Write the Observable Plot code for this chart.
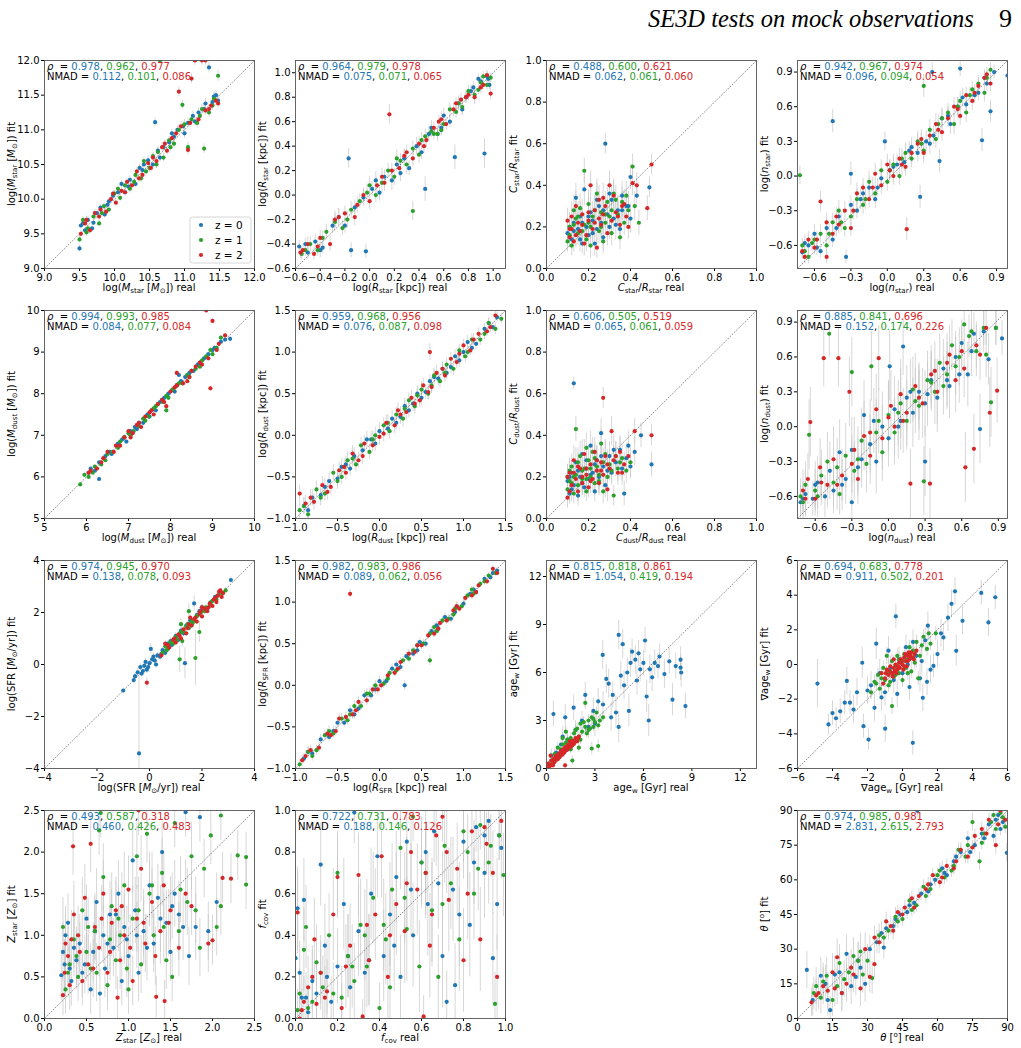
<!DOCTYPE html>
<html><head><meta charset="utf-8">
<script src="https://cdn.jsdelivr.net/npm/d3@7"></script>
<script src="https://cdn.jsdelivr.net/npm/@observablehq/plot@0.6"></script>
<style>
body{margin:0;background:#fff;}
#page{position:relative;width:1021px;height:1048px;overflow:hidden;font-family:"DejaVu Sans",sans-serif;background:#fff;}
.panel{position:absolute;}
.lab{position:absolute;font-size:10px;white-space:nowrap;color:#000;line-height:1;font-family:"DejaVu Sans";}
.lab sub{font-size:0.7em;vertical-align:-0.35em;line-height:0;}
.lab sup{font-size:0.7em;vertical-align:0.55em;line-height:0;}
#title{position:absolute;left:0;top:6px;width:1021px;height:34px;font-family:"Liberation Serif",serif;font-size:26px;line-height:1;color:#000;}
</style></head><body><div id="page"></div>
<script>
const COLORS = ["#1f77b4", "#2ca02c", "#d62728"];

// ---- data: [real, fit, error] ----
const mstarZ0 = [[9.5,9.29,.05],[9.52,9.62,.04],[9.58,9.55,.04],[9.62,9.7,.05],[9.7,9.66,.04],[9.75,9.8,.05],[9.8,9.88,.04],[9.86,9.78,.05],[9.92,9.97,.05],[9.98,10.05,.05],[10.05,10.1,.05],[10.1,10.22,.05],[10.15,10.1,.05],[10.22,10.28,.06],[10.3,10.22,.05],[10.36,10.45,.06],[10.42,10.5,.05],[10.48,10.56,.06],[10.55,10.5,.05],[10.58,11.11,.06],[10.62,10.7,.06],[10.7,10.75,.06],[10.78,10.82,.06],[10.85,10.9,.06],[10.9,11.0,.06],[10.98,11.05,.07],[11.05,11.1,.07],[11.12,11.2,.07],[11.2,11.25,.07],[11.28,11.3,.07],[11.35,11.9,.08],[11.4,11.4,.07],[11.45,11.5,.07],[11.48,11.42,.07],[9.55,9.65,.05],[9.68,9.58,.05],[9.9,9.92,.05],[10.2,10.18,.05],[10.4,10.42,.06],[10.65,10.6,.06],[10.82,10.95,.06],[11.0,10.95,.07],[11.15,11.12,.07],[11.3,11.38,.07],[11.42,11.48,.07]];
const mstarZ1 = [[9.5,9.42,.05],[9.55,9.7,.05],[9.62,9.58,.05],[9.7,9.75,.04],[9.78,9.65,.05],[9.85,9.9,.05],[9.92,9.85,.05],[10.0,10.08,.05],[10.08,10.02,.05],[10.15,10.2,.05],[10.22,10.15,.06],[10.3,10.35,.05],[10.38,10.3,.06],[10.45,10.4,.05],[10.5,10.45,.06],[10.55,10.62,.05],[10.62,10.68,.06],[10.65,12.0,.06],[10.7,10.6,.06],[10.78,10.85,.06],[10.85,10.8,.06],[10.92,11.0,.07],[10.97,11.36,.07],[11.05,10.75,.07],[11.1,11.15,.07],[11.18,11.1,.07],[11.25,11.3,.07],[11.28,10.73,.07],[11.35,11.25,.07],[11.42,11.45,.07],[11.48,11.78,.08],[9.6,9.52,.05],[9.82,9.8,.05],[10.05,10.15,.05],[10.28,10.25,.05],[10.42,10.55,.06],[10.6,10.5,.06],[10.8,10.75,.06],[11.0,11.08,.07],[11.22,11.2,.07],[11.4,11.35,.07]];
const mstarZ2 = [[9.52,9.5,.05],[9.58,9.65,.05],[9.65,9.55,.05],[9.72,9.8,.05],[9.8,9.85,.05],[9.88,9.82,.05],[9.95,10.0,.05],[10.02,9.95,.05],[10.1,10.12,.05],[10.18,10.25,.05],[10.25,10.2,.05],[10.32,10.4,.06],[10.4,10.35,.06],[10.48,10.52,.06],[10.55,10.6,.06],[10.6,10.55,.06],[10.68,10.75,.06],[10.75,10.7,.06],[10.82,10.88,.06],[10.88,10.95,.06],[10.92,11.55,.07],[11.05,10.71,.07],[11.1,11.74,.07],[11.15,12.0,.07],[11.2,11.15,.07],[11.25,12.0,.07],[11.3,11.28,.07],[11.38,11.35,.07],[11.45,11.42,.07],[11.3,12.0,.07],[9.6,9.7,.05],[9.78,9.75,.05],[9.98,10.08,.05],[10.15,10.1,.05],[10.35,10.3,.06],[10.52,10.45,.06],[10.72,10.8,.06],[10.95,11.05,.07],[11.08,11.1,.07],[11.35,11.3,.07],[11.48,11.38,.07]];

const rstarZ0 = [[-0.57,-0.42,.05],[-0.5,-0.47,.05],[-0.44,-0.38,.06],[-0.38,-0.43,.05],[-0.3,-0.25,.06],[-0.25,-0.18,.07],[-0.17,0.3,.08],[-0.15,-0.45,.06],[-0.12,-0.1,.06],[-0.05,-0.02,.07],[-0.03,-0.46,.06],[0.02,0.05,.06],[0.08,0.02,.07],[0.12,0.15,.06],[0.18,0.12,.08],[0.22,0.25,.06],[0.28,0.3,.07],[0.32,0.22,.06],[0.38,0.4,.07],[0.42,0.35,.06],[0.45,0.05,.1],[0.5,0.55,.06],[0.55,0.5,.05],[0.6,0.65,.06],[0.65,0.6,.05],[0.69,0.31,.1],[0.72,0.75,.06],[0.78,0.8,.05],[0.84,0.88,.05],[0.88,0.95,.04],[0.93,0.34,.12],[0.95,0.97,.04],[0.97,0.9,.04],[-0.52,-0.4,.05],[-0.4,-0.45,.06],[-0.2,-0.25,.06],[0.05,0.12,.07],[0.25,0.18,.07],[0.48,0.5,.06],[0.58,0.55,.06],[0.75,0.7,.05],[0.82,0.85,.05],[0.9,0.93,.04],[0.96,0.95,.04]];
const rstarZ1 = [[-0.55,-0.48,.05],[-0.48,-0.4,.06],[-0.42,-0.45,.05],[-0.35,-0.3,.06],[-0.28,-0.22,.07],[-0.22,-0.27,.06],[-0.15,-0.12,.07],[-0.08,-0.05,.06],[-0.02,0.02,.07],[0.05,0.0,.06],[0.1,0.1,.08],[0.15,0.2,.06],[0.2,0.15,.07],[0.25,0.28,.06],[0.3,0.25,.08],[0.35,-0.13,.08],[0.35,0.38,.06],[0.4,0.33,.07],[0.45,0.48,.06],[0.5,0.52,.05],[0.55,0.5,.06],[0.6,0.58,.05],[0.65,0.7,.06],[0.7,0.68,.05],[0.75,0.72,.06],[0.8,0.85,.05],[0.85,0.82,.05],[0.9,0.92,.04],[0.95,0.9,.04],[0.98,0.96,.04],[-0.52,-0.45,.05],[-0.38,-0.35,.06],[-0.18,-0.2,.07],[0.0,0.08,.07],[0.22,0.3,.07],[0.42,0.45,.06],[0.52,0.5,.05],[0.58,0.53,.05],[0.72,0.75,.05],[0.88,0.86,.04],[0.92,0.97,.04]];
const rstarZ2 = [[-0.56,-0.47,.05],[-0.5,-0.4,.06],[-0.45,-0.48,.05],[-0.4,-0.35,.06],[-0.32,-0.4,.06],[-0.28,-0.2,.07],[-0.2,-0.15,.06],[-0.12,-0.18,.07],[-0.05,0.0,.06],[0.0,-0.05,.07],[0.06,0.08,.06],[0.12,0.1,.07],[0.16,0.66,.08],[0.18,0.2,.06],[0.24,0.22,.07],[0.3,0.35,.06],[0.35,0.3,.07],[0.4,0.42,.06],[0.46,0.45,.06],[0.52,0.55,.05],[0.58,0.62,.06],[0.62,0.58,.05],[0.68,0.7,.06],[0.74,0.78,.05],[0.8,0.82,.05],[0.85,0.8,.06],[0.9,0.88,.05],[0.95,0.98,.04],[0.98,0.83,.05],[-0.54,-0.45,.05],[-0.42,-0.42,.06],[-0.25,-0.18,.07],[-0.1,-0.08,.07],[0.1,0.15,.07],[0.28,0.32,.06],[0.44,0.4,.06],[0.56,0.6,.05],[0.7,0.75,.05],[0.78,0.8,.05],[0.92,0.9,.04]];

const cstarZ0 = [[0.1,0.17,.06],[0.12,0.14,.05],[0.13,0.22,.07],[0.15,0.19,.06],[0.16,0.25,.07],[0.17,0.12,.05],[0.18,0.38,.08],[0.19,0.2,.06],[0.2,0.16,.06],[0.21,0.27,.07],[0.22,0.23,.06],[0.24,0.19,.06],[0.25,0.3,.07],[0.26,0.22,.06],[0.27,0.15,.06],[0.28,0.6,.05],[0.29,0.26,.07],[0.3,0.2,.06],[0.31,0.33,.07],[0.32,0.24,.06],[0.34,0.28,.07],[0.35,0.19,.06],[0.36,0.35,.07],[0.38,0.3,.07],[0.4,0.44,.06],[0.4,0.24,.07],[0.43,0.35,.06],[0.49,0.39,.05],[0.14,0.34,.07],[0.23,0.12,.06],[0.11,0.2,.07],[0.13,0.18,.06],[0.17,0.22,.07],[0.2,0.25,.07],[0.22,0.17,.06],[0.24,0.33,.08],[0.27,0.28,.07],[0.3,0.36,.07],[0.33,0.21,.07],[0.36,0.28,.07],[0.39,0.3,.07],[0.16,0.14,.06]];
const cstarZ1 = [[0.1,0.13,.05],[0.11,0.2,.06],[0.12,0.11,.05],[0.14,0.24,.07],[0.15,0.17,.06],[0.16,0.29,.07],[0.18,0.47,.06],[0.18,0.21,.06],[0.19,0.14,.06],[0.2,0.31,.07],[0.21,0.2,.06],[0.22,0.25,.07],[0.24,0.36,.07],[0.25,0.18,.06],[0.26,0.27,.07],[0.28,0.22,.06],[0.29,0.32,.07],[0.3,0.25,.06],[0.31,0.17,.06],[0.32,0.36,.07],[0.34,0.26,.06],[0.36,0.32,.07],[0.37,0.22,.06],[0.39,0.28,.07],[0.41,0.49,.06],[0.42,0.3,.07],[0.44,0.22,.06],[0.35,0.15,.06],[0.13,0.28,.07],[0.27,0.13,.06],[0.11,0.16,.06],[0.13,0.21,.07],[0.15,0.25,.07],[0.17,0.18,.06],[0.2,0.22,.07],[0.23,0.28,.07],[0.26,0.2,.07],[0.28,0.26,.07],[0.31,0.28,.07],[0.33,0.33,.07],[0.38,0.35,.07],[0.21,0.11,.06]];
const cstarZ2 = [[0.1,0.23,.06],[0.11,0.15,.05],[0.12,0.19,.06],[0.13,0.13,.05],[0.15,0.22,.07],[0.16,0.18,.06],[0.17,0.26,.07],[0.19,0.16,.06],[0.2,0.23,.06],[0.21,0.4,.07],[0.22,0.19,.06],[0.23,0.28,.07],[0.24,0.1,.05],[0.25,0.24,.07],[0.26,0.21,.06],[0.28,0.3,.07],[0.29,0.17,.06],[0.3,0.4,.07],[0.31,0.23,.06],[0.33,0.27,.07],[0.35,0.21,.06],[0.37,0.31,.07],[0.38,0.25,.06],[0.41,0.41,.06],[0.43,0.4,.06],[0.48,0.29,.06],[0.5,0.5,.05],[0.39,0.2,.06],[0.14,0.3,.07],[0.27,0.34,.07],[0.11,0.19,.06],[0.12,0.25,.07],[0.14,0.16,.06],[0.17,0.21,.07],[0.18,0.12,.06],[0.2,0.27,.07],[0.23,0.22,.07],[0.25,0.33,.07],[0.27,0.26,.07],[0.32,0.35,.07],[0.34,0.25,.07],[0.36,0.3,.07]];

const nstarZ0 = [[-0.7,-0.66,.06],[-0.65,-0.6,.07],[-0.6,-0.5,.08],[-0.55,-0.65,.06],[-0.5,-0.45,.08],[-0.45,0.475,.1],[-0.45,-0.55,.07],[-0.4,-0.35,.08],[-0.34,-0.7,.06],[-0.3,0.02,.1],[-0.3,-0.25,.08],[-0.25,-0.3,.07],[-0.2,-0.15,.08],[-0.15,-0.1,.09],[-0.1,-0.2,.08],[-0.05,-0.02,.09],[-0.02,0.3,.08],[0.02,0.05,.08],[0.08,0.1,.09],[0.14,0.12,.08],[0.2,0.25,.08],[0.27,-0.18,.1],[0.25,0.2,.08],[0.32,0.3,.09],[0.37,0.9,.08],[0.38,0.35,.08],[0.43,0.13,.1],[0.45,0.5,.08],[0.52,0.45,.09],[0.58,0.6,.08],[0.6,0.93,.07],[0.65,0.62,.08],[0.72,0.7,.07],[0.78,0.31,.1],[0.8,0.85,.07],[0.85,0.56,.09],[0.88,0.9,.06],[0.99,0.87,.06],[-0.68,-0.58,.07],[-0.58,-0.62,.07],[-0.42,-0.45,.08],[-0.22,-0.2,.09],[-0.08,-0.1,.08],[0.05,0.08,.08],[0.18,0.22,.08],[0.35,0.28,.09],[0.5,0.52,.08],[0.62,0.68,.08],[0.75,0.72,.07],[0.82,0.8,.07]];
const nstarZ1 = [[-0.72,0.007,.08],[-0.7,-0.6,.06],[-0.65,-0.7,.06],[-0.6,-0.55,.07],[-0.55,-0.5,.08],[-0.5,-0.6,.07],[-0.45,-0.4,.08],[-0.4,-0.3,.09],[-0.35,-0.45,.08],[-0.3,-0.35,.08],[-0.25,-0.2,.09],[-0.2,-0.25,.08],[-0.15,-0.05,.09],[-0.1,-0.15,.08],[-0.05,0.05,.09],[0.0,-0.05,.08],[0.05,0.1,.09],[0.1,0.0,.08],[0.15,0.2,.09],[0.2,0.15,.08],[0.25,0.3,.09],[0.3,0.78,.1],[0.3,0.22,.08],[0.35,0.4,.09],[0.4,0.32,.08],[0.45,0.5,.09],[0.5,0.55,.08],[0.55,0.45,.09],[0.6,0.65,.08],[0.65,0.55,.09],[0.7,0.75,.07],[0.75,0.8,.07],[0.8,0.72,.08],[0.85,0.92,.06],[-0.68,-0.65,.06],[-0.62,-0.58,.07],[-0.48,-0.5,.08],[-0.38,-0.4,.08],[-0.18,-0.2,.09],[0.02,0.05,.09],[0.12,0.15,.09],[0.28,0.28,.09],[0.42,0.45,.08],[0.58,0.6,.08],[0.68,0.7,.07],[0.82,0.85,.06]];
const nstarZ2 = [[-0.7,-0.65,.06],[-0.65,-0.55,.07],[-0.6,-0.62,.06],[-0.55,-0.22,.09],[-0.5,-0.7,.06],[-0.5,-0.4,.08],[-0.45,-0.5,.07],[-0.4,-0.42,.08],[-0.35,-0.3,.08],[-0.3,-0.45,.07],[-0.25,-0.15,.09],[-0.2,-0.1,.08],[-0.15,-0.2,.08],[-0.1,0.02,.09],[-0.05,-0.08,.08],[0.0,0.1,.09],[0.05,0.0,.08],[0.1,0.15,.09],[0.16,-0.46,.1],[0.15,0.08,.08],[0.2,0.2,.09],[0.25,0.28,.08],[0.3,0.2,.09],[0.35,0.35,.08],[0.4,0.45,.09],[0.45,0.38,.08],[0.5,0.5,.08],[0.55,0.6,.08],[0.6,0.52,.08],[0.65,0.7,.07],[0.7,0.65,.08],[0.75,0.78,.07],[0.8,0.85,.06],[0.85,0.8,.07],[-0.68,-0.7,.06],[-0.58,-0.55,.07],[-0.42,-0.35,.08],[-0.28,-0.3,.08],[-0.12,-0.1,.09],[0.02,0.05,.09],[0.12,0.1,.09],[0.28,0.32,.08],[0.42,0.4,.08],[0.58,0.58,.08],[0.72,0.72,.07],[0.82,0.88,.06]];

const mdustZ0 = [[6.05,6.1,.04],[6.1,6.2,.04],[6.3,5.95,.05],[6.3,6.35,.04],[6.45,6.5,.04],[6.6,6.55,.05],[6.75,6.8,.04],[6.85,6.9,.05],[6.95,6.85,.05],[7.05,7.1,.05],[7.15,7.2,.05],[7.25,7.3,.05],[7.35,7.3,.05],[7.45,7.5,.05],[7.55,7.6,.05],[7.65,7.6,.05],[7.75,7.8,.05],[7.85,7.9,.05],[7.95,8.0,.05],[8.05,8.1,.05],[8.15,8.2,.06],[8.25,8.3,.05],[8.35,8.4,.06],[8.45,8.5,.05],[8.55,8.55,.06],[8.65,8.7,.05],[8.8,8.85,.06],[8.9,8.95,.05],[9.05,9.1,.06],[9.2,9.25,.05],[9.42,9.32,.05],[8.2,8.45,.06],[6.2,6.15,.04],[6.55,6.6,.04],[6.9,6.95,.05],[7.2,7.15,.05],[7.5,7.45,.05],[7.8,7.85,.05],[8.1,8.05,.05],[8.4,8.45,.05],[8.7,8.75,.05],[9.0,9.05,.05],[9.3,9.3,.05]];
const mdustZ1 = [[5.85,5.82,.04],[5.95,6.05,.04],[6.05,6.0,.04],[6.2,6.25,.04],[6.35,6.3,.05],[6.5,6.55,.04],[6.62,6.6,.05],[6.75,6.7,.05],[6.9,6.95,.05],[7.0,7.05,.05],[7.12,7.1,.05],[7.25,7.22,.05],[7.35,7.4,.05],[7.48,7.45,.05],[7.6,7.65,.05],[7.7,7.75,.05],[7.82,7.8,.05],[7.95,7.9,.05],[8.05,8.1,.06],[8.15,8.2,.05],[8.28,8.25,.06],[8.4,8.45,.05],[8.5,8.55,.06],[8.6,8.6,.05],[8.75,8.8,.06],[8.85,8.9,.05],[8.95,9.05,.06],[9.1,9.1,.05],[9.2,9.35,.05],[7.9,7.6,.06],[6.15,6.1,.04],[6.45,6.4,.04],[6.8,6.85,.05],[7.05,7.0,.05],[7.4,7.35,.05],[7.65,7.7,.05],[7.9,7.95,.05],[8.2,8.25,.05],[8.45,8.4,.05],[8.7,8.65,.05],[9.0,8.95,.05]];
const mdustZ2 = [[6.1,6.15,.04],[6.25,6.2,.04],[6.4,6.45,.04],[6.5,6.6,.05],[6.65,6.6,.05],[6.8,6.75,.05],[6.9,6.95,.05],[7.0,7.1,.05],[7.1,7.05,.05],[7.2,7.25,.05],[7.3,7.2,.05],[7.4,7.45,.05],[7.5,7.55,.05],[7.6,7.5,.05],[7.7,7.75,.05],[7.8,7.85,.05],[7.9,7.7,.06],[8.0,8.05,.05],[8.1,8.15,.06],[8.3,8.25,.05],[8.4,8.3,.06],[8.5,8.55,.05],[8.6,8.65,.06],[8.7,8.75,.05],[8.85,10.0,.06],[8.9,8.85,.05],[8.95,8.13,.06],[9.0,9.75,.06],[9.1,9.05,.05],[9.3,9.4,.05],[8.15,8.5,.06],[6.05,6.1,.04],[6.35,6.35,.04],[6.7,6.75,.05],[7.05,6.95,.05],[7.25,7.3,.05],[7.55,7.6,.05],[7.85,7.8,.05],[8.15,8.2,.05],[8.45,8.4,.05],[8.75,8.7,.05],[9.15,9.2,.05]];

const rdustZ0 = [[-0.9,-0.85,.1],[-0.8,-0.75,.1],[-0.7,-0.72,.09],[-0.6,-0.55,.1],[-0.5,-0.52,.09],[-0.45,-0.38,.1],[-0.35,-0.4,.09],[-0.3,-0.25,.1],[-0.2,-0.18,.09],[-0.15,-0.05,.1],[-0.05,-0.1,.09],[0.0,0.05,.1],[0.1,0.08,.09],[0.15,0.2,.1],[0.25,0.22,.09],[0.3,0.35,.1],[0.4,0.38,.09],[0.45,0.5,.1],[0.55,0.52,.09],[0.6,0.65,.08],[0.7,0.68,.09],[0.75,0.8,.08],[0.85,0.82,.08],[0.9,0.95,.08],[1.0,1.0,.07],[1.05,1.12,.08],[1.15,1.1,.07],[1.25,1.28,.07],[1.35,1.3,.06],[1.4,1.42,.06],[-0.85,-0.9,.1],[-0.65,-0.62,.1],[-0.4,-0.35,.1],[-0.1,-0.05,.1],[0.2,0.15,.09],[0.35,0.3,.09],[0.5,0.45,.09],[0.65,0.7,.09],[0.8,0.75,.08],[0.95,0.9,.08],[1.1,1.05,.07],[1.3,1.35,.06]];
const rdustZ1 = [[-0.95,-0.9,.1],[-0.85,-0.95,.1],[-0.75,-0.65,.1],[-0.65,-0.7,.09],[-0.55,-0.45,.1],[-0.45,-0.5,.09],[-0.38,-0.3,.1],[-0.28,-0.35,.09],[-0.22,-0.12,.1],[-0.12,-0.2,.09],[-0.05,0.0,.1],[0.05,0.12,.09],[0.12,0.05,.1],[0.2,0.25,.09],[0.28,0.2,.1],[0.35,0.42,.09],[0.42,0.35,.09],[0.5,0.55,.09],[0.58,0.5,.08],[0.65,0.72,.09],[0.72,0.65,.08],[0.8,0.85,.08],[0.88,0.8,.08],[0.95,1.02,.07],[1.02,0.95,.08],[1.1,1.15,.07],[1.2,1.15,.07],[1.3,1.35,.06],[1.38,1.28,.07],[1.45,1.4,.06],[-0.9,-0.85,.1],[-0.7,-0.75,.1],[-0.5,-0.55,.1],[-0.32,-0.28,.1],[-0.08,-0.05,.1],[0.1,0.15,.1],[0.3,0.32,.09],[0.45,0.48,.09],[0.62,0.6,.09],[0.78,0.75,.08],[1.05,1.0,.07],[1.25,1.22,.07]];
const rdustZ2 = [[-0.95,-0.7,.1],[-0.88,-0.82,.1],[-0.78,-0.8,.1],[-0.68,-0.6,.1],[-0.58,-0.62,.09],[-0.48,-0.42,.1],[-0.4,-0.45,.09],[-0.32,-0.22,.1],[-0.25,-0.3,.09],[-0.18,-0.1,.1],[-0.08,-0.12,.09],[0.0,-0.02,.1],[0.08,0.15,.09],[0.18,0.12,.1],[0.22,0.3,.09],[0.32,0.28,.1],[0.38,0.45,.09],[0.48,0.42,.09],[0.52,0.6,.09],[0.6,1.0,.1],[0.62,0.58,.08],[0.68,0.75,.09],[0.78,0.72,.08],[0.85,0.92,.08],[0.92,0.88,.08],[1.0,1.08,.07],[1.08,1.02,.07],[1.18,1.22,.07],[1.28,1.25,.06],[1.38,1.44,.06],[-0.82,-0.75,.1],[-0.62,-0.68,.1],[-0.42,-0.38,.1],[-0.2,-0.25,.1],[0.05,0.02,.1],[0.25,0.25,.09],[0.42,0.38,.09],[0.58,0.52,.09],[0.75,0.8,.08],[0.95,0.98,.08],[1.12,1.15,.07],[1.32,1.3,.06]];

const cdustZ0 = [[0.1,0.18,.06],[0.11,0.12,.05],[0.12,0.22,.06],[0.13,0.65,.03],[0.13,0.16,.05],[0.14,0.27,.07],[0.15,0.11,.05],[0.16,0.2,.06],[0.17,0.31,.07],[0.18,0.15,.05],[0.19,0.24,.06],[0.2,0.19,.06],[0.21,0.35,.07],[0.22,0.22,.06],[0.23,0.13,.05],[0.24,0.28,.07],[0.25,0.2,.06],[0.26,0.41,.07],[0.27,0.25,.06],[0.28,0.16,.06],[0.3,0.3,.07],[0.31,0.22,.06],[0.33,0.27,.07],[0.35,0.33,.07],[0.37,0.12,.06],[0.38,0.29,.07],[0.4,0.25,.06],[0.42,0.32,.07],[0.45,0.4,.06],[0.5,0.26,.06],[0.11,0.2,.06],[0.12,0.14,.06],[0.15,0.23,.06],[0.17,0.17,.06],[0.19,0.28,.07],[0.21,0.21,.06],[0.23,0.26,.07],[0.26,0.3,.07],[0.29,0.23,.06],[0.32,0.33,.07],[0.36,0.24,.06],[0.39,0.35,.07]];
const cdustZ1 = [[0.1,0.2,.06],[0.1,0.14,.05],[0.11,0.18,.06],[0.12,0.25,.06],[0.13,0.12,.05],[0.14,0.43,.06],[0.14,0.21,.06],[0.15,0.16,.05],[0.16,0.3,.07],[0.17,0.19,.06],[0.18,0.24,.06],[0.19,0.13,.05],[0.2,0.28,.07],[0.21,0.2,.06],[0.22,0.32,.07],[0.23,0.17,.06],[0.24,0.25,.07],[0.25,0.21,.06],[0.26,0.36,.07],[0.27,0.27,.07],[0.29,0.2,.06],[0.3,0.26,.07],[0.32,0.11,.05],[0.33,0.3,.07],[0.34,0.24,.06],[0.36,0.29,.07],[0.38,0.23,.06],[0.4,0.27,.07],[0.27,0.13,.06],[0.19,0.34,.07],[0.11,0.23,.06],[0.12,0.17,.06],[0.13,0.2,.06],[0.15,0.27,.07],[0.17,0.23,.06],[0.19,0.19,.06],[0.21,0.24,.07],[0.23,0.29,.07],[0.25,0.18,.06],[0.28,0.31,.07],[0.31,0.23,.06],[0.35,0.27,.07]];
const cdustZ2 = [[0.1,0.1,.05],[0.11,0.22,.06],[0.12,0.16,.05],[0.13,0.28,.07],[0.14,0.19,.06],[0.15,0.13,.05],[0.16,0.24,.06],[0.17,0.17,.06],[0.18,0.31,.07],[0.19,0.21,.06],[0.2,0.15,.05],[0.21,0.26,.07],[0.22,0.19,.06],[0.23,0.32,.07],[0.24,0.23,.06],[0.25,0.17,.06],[0.26,0.27,.07],[0.27,0.58,.05],[0.27,0.21,.06],[0.28,0.3,.07],[0.3,0.24,.06],[0.31,0.42,.07],[0.32,0.28,.07],[0.34,0.22,.06],[0.35,0.32,.07],[0.37,0.26,.06],[0.39,0.3,.07],[0.42,0.42,.06],[0.5,0.4,.05],[0.29,0.14,.06],[0.1,0.2,.06],[0.11,0.13,.05],[0.13,0.22,.06],[0.15,0.25,.06],[0.17,0.2,.06],[0.19,0.24,.07],[0.21,0.18,.06],[0.24,0.28,.07],[0.26,0.23,.06],[0.29,0.26,.07],[0.33,0.3,.07],[0.36,0.22,.06]];

const ndustZ0 = [[-0.72,-0.65,.15],[-0.68,-0.58,.2],[-0.62,-0.62,.15],[-0.58,-0.48,.22],[-0.52,-0.6,.18],[-0.48,-0.38,.25],[-0.45,-0.55,.2],[-0.4,-0.22,.28],[-0.35,-0.45,.22],[-0.3,-0.65,.2],[-0.3,-0.2,.28],[-0.25,-0.35,.25],[-0.2,0.1,.3],[-0.15,-0.15,.25],[-0.1,-0.3,.28],[-0.05,0.0,.3],[0.0,-0.1,.25],[0.01,0.52,.3],[0.05,0.15,.28],[0.1,0.05,.25],[0.12,0.69,.25],[0.15,0.25,.28],[0.2,0.12,.3],[0.25,0.3,.25],[0.3,-0.3,.3],[0.3,0.2,.28],[0.35,0.4,.25],[0.4,0.25,.3],[0.45,0.5,.25],[0.5,0.35,.28],[0.55,0.6,.22],[0.6,0.72,.2],[0.65,0.45,.28],[0.7,0.8,.18],[0.75,-0.02,.3],[0.82,0.58,.22],[0.88,0.85,.15],[0.93,0.76,.15],[-0.7,-0.62,.15],[-0.6,-0.5,.2],[-0.38,-0.5,.22],[-0.22,-0.28,.25],[-0.12,0.05,.28],[0.08,0.0,.28],[0.18,0.3,.28],[0.32,0.28,.28],[0.48,0.4,.25],[0.58,0.45,.25],[0.68,0.65,.22],[0.78,0.82,.18]];
const ndustZ1 = [[-0.72,-0.6,.15],[-0.68,-0.5,.2],[-0.65,-0.07,.3],[-0.6,-0.55,.18],[-0.55,-0.42,.22],[-0.5,-0.3,.25],[-0.485,0.8,.2],[-0.45,-0.48,.2],[-0.4,-0.58,.18],[-0.35,-0.25,.28],[-0.3,0.47,.3],[-0.28,-0.38,.25],[-0.22,-0.12,.28],[-0.18,-0.32,.25],[-0.14,0.52,.3],[-0.1,-0.05,.28],[-0.05,-0.22,.25],[0.0,0.1,.3],[0.05,-0.05,.28],[0.1,0.2,.3],[0.15,0.05,.25],[0.2,0.32,.28],[0.25,0.18,.3],[0.29,-0.47,.3],[0.32,0.4,.25],[0.38,0.3,.28],[0.42,0.55,.25],[0.48,0.45,.28],[0.52,0.7,.22],[0.58,0.6,.25],[0.62,0.88,.15],[0.66,0.78,.18],[0.72,0.65,.22],[0.78,0.85,.15],[0.84,0.21,.3],[0.88,0.85,.15],[-0.7,-0.65,.15],[-0.58,-0.6,.18],[-0.42,-0.35,.25],[-0.25,-0.28,.28],[-0.08,0.05,.28],[0.08,0.12,.28],[0.22,0.22,.28],[0.35,0.38,.25],[0.45,0.35,.25],[0.55,0.52,.25],[0.68,0.82,.18],[0.8,0.62,.2]];
const ndustZ2 = [[-0.7,-0.55,.18],[-0.66,-0.45,.22],[-0.64,0.04,.3],[-0.6,-0.62,.15],[-0.56,-0.35,.25],[-0.53,0.59,.25],[-0.5,-0.5,.2],[-0.45,-0.28,.28],[-0.41,0.59,.25],[-0.38,-0.42,.22],[-0.32,0.3,.3],[-0.28,-0.2,.28],[-0.25,-0.45,.22],[-0.2,-0.08,.3],[-0.15,-0.25,.25],[-0.08,0.59,.28],[-0.1,0.15,.3],[-0.05,-0.1,.28],[0.02,0.18,.3],[0.05,0.0,.25],[0.1,0.28,.3],[0.15,0.12,.28],[0.18,-0.49,.3],[0.22,0.35,.28],[0.28,0.2,.3],[0.34,-0.49,.3],[0.35,0.45,.25],[0.4,0.3,.28],[0.48,0.55,.25],[0.55,0.4,.28],[0.6,0.65,.22],[0.63,-0.35,.3],[0.7,-0.19,.3],[0.72,0.7,.2],[0.8,0.85,.15],[0.83,0.12,.3],[0.89,0.31,.28],[-0.68,-0.62,.15],[-0.55,-0.48,.2],[-0.42,-0.5,.22],[-0.3,-0.32,.25],[-0.15,-0.05,.28],[0.0,0.08,.3],[0.12,0.05,.28],[0.25,0.25,.28],[0.38,0.48,.25],[0.5,0.62,.25],[0.62,0.5,.25],[0.75,0.62,.22]];

const sfrZ0 = [[-1.0,-1.0,.1],[-0.55,-0.45,.12],[-0.45,-0.3,.15],[-0.4,-3.42,3.0],[-0.35,-0.1,.15],[-0.3,-0.35,.12],[-0.2,-0.05,.15],[-0.15,0.1,.12],[-0.1,-0.2,.15],[0.0,0.05,.12],[0.05,0.6,.2],[0.1,0.2,.12],[0.2,0.15,.15],[0.3,0.35,.12],[0.4,0.3,.15],[0.5,0.55,.12],[0.6,0.45,.15],[0.7,0.8,.12],[0.85,0.75,.15],[1.0,1.1,.12],[1.1,0.95,.15],[1.2,1.3,.12],[1.35,0.05,.6],[1.4,1.5,.12],[1.55,1.7,.15],[1.7,2.35,.3],[1.8,1.9,.12],[2.0,2.2,.12],[2.2,2.1,.1],[2.5,2.6,.1],[3.1,3.25,.1],[0.25,0.0,.15],[-0.6,-0.6,.12],[-0.25,-0.25,.15],[-0.05,-0.1,.15],[0.15,0.3,.15],[0.45,0.4,.12],[0.8,0.9,.12],[1.3,1.2,.12],[1.6,1.5,.12],[1.9,2.05,.12],[2.3,2.35,.1]];
const sfrZ1 = [[0.5,0.45,.12],[0.6,0.7,.12],[0.7,0.6,.12],[0.8,0.85,.12],[0.9,0.8,.12],[1.0,1.05,.12],[1.05,0.95,.12],[1.15,0.2,.5],[1.15,1.2,.12],[1.2,1.55,.2],[1.3,1.25,.12],[1.4,1.45,.12],[1.5,2.05,.3],[1.5,1.4,.12],[1.6,1.65,.12],[1.75,0.25,1.05],[1.7,1.7,.12],[1.8,1.85,.12],[1.9,1.25,.4],[1.95,2.0,.1],[2.05,2.1,.1],[2.15,2.2,.1],[2.3,2.3,.1],[2.4,2.45,.1],[2.55,2.5,.1],[2.7,2.75,.1],[2.9,2.85,.1],[1.25,0.9,.2],[0.65,0.55,.12],[0.95,1.0,.12],[1.25,1.3,.12],[1.45,1.55,.12],[1.65,1.6,.1],[1.85,1.9,.1],[2.1,2.05,.1],[2.35,2.4,.1],[2.6,2.65,.1],[2.8,2.75,.1]];
const sfrZ2 = [[-0.1,-0.7,.2],[0.45,0.35,.12],[0.6,0.8,.12],[0.75,0.65,.12],[0.9,0.95,.1],[1.0,0.85,.12],[1.1,1.15,.1],[1.2,1.0,.12],[1.3,1.35,.1],[1.4,1.2,.12],[1.5,1.55,.1],[1.6,1.5,.1],[1.7,1.75,.1],[1.8,1.65,.1],[1.9,1.95,.1],[2.0,1.85,.1],[2.1,2.15,.1],[2.2,2.05,.1],[2.3,2.35,.1],[2.4,2.25,.1],[2.5,2.55,.1],[2.55,2.4,.1],[2.65,2.8,.1],[2.75,2.6,.1],[2.8,2.75,.1],[2.0,2.2,.1],[1.55,1.8,.12],[0.7,0.75,.12],[0.95,1.0,.1],[1.15,1.1,.1],[1.45,1.4,.1],[1.75,1.8,.1],[1.95,2.05,.1],[2.25,2.2,.1],[2.45,2.5,.1],[2.6,2.65,.1],[2.7,2.85,.1]];

const rsfrZ0 = [[-0.9,-0.88,.06],[-0.8,-0.82,.06],[-0.7,-0.65,.06],[-0.6,-0.62,.06],[-0.5,-0.45,.06],[-0.42,-0.45,.06],[-0.35,-0.3,.06],[-0.25,-0.28,.06],[-0.18,-0.12,.06],[-0.1,-0.12,.06],[0.0,0.05,.06],[0.08,0.05,.06],[0.15,0.2,.06],[0.25,0.22,.05],[0.32,0.35,.05],[0.4,0.38,.05],[0.48,0.52,.05],[0.55,0.5,.05],[0.62,0.65,.05],[0.7,0.68,.05],[0.78,0.82,.05],[0.85,0.8,.05],[0.92,0.95,.05],[1.0,0.98,.04],[1.08,1.1,.04],[1.15,1.12,.04],[1.25,1.28,.04],[1.32,1.3,.04],[1.4,1.38,.04],[0.3,0.0,.06],[-0.85,-0.8,.06],[-0.55,-0.55,.06],[-0.3,-0.35,.06],[-0.05,-0.05,.06],[0.2,0.25,.05],[0.45,0.42,.05],[0.68,0.72,.05],[0.9,0.88,.05],[1.12,1.15,.04],[1.35,1.35,.04]];
const rsfrZ1 = [[-0.95,-0.95,.06],[-0.85,-0.8,.06],[-0.75,-0.78,.06],[-0.65,-0.6,.06],[-0.55,-0.58,.06],[-0.45,-0.4,.06],[-0.38,-0.42,.06],[-0.3,-0.25,.06],[-0.22,-0.25,.06],[-0.12,-0.1,.06],[-0.05,0.0,.06],[0.05,0.02,.06],[0.12,0.15,.05],[0.2,0.18,.05],[0.28,0.3,.05],[0.35,0.32,.05],[0.45,0.48,.05],[0.52,0.5,.05],[0.6,0.62,.05],[0.68,0.65,.05],[0.75,0.78,.05],[0.82,0.8,.05],[0.9,0.92,.05],[0.98,0.95,.04],[1.05,1.08,.04],[1.12,1.1,.04],[1.2,1.22,.04],[1.3,1.32,.04],[1.38,1.35,.04],[0.6,0.3,.06],[-0.8,-0.85,.06],[-0.6,-0.55,.06],[-0.35,-0.35,.06],[-0.15,-0.1,.06],[0.1,0.08,.05],[0.4,0.42,.05],[0.65,0.7,.05],[0.88,0.85,.05],[1.1,1.15,.04],[1.25,1.25,.04]];
const rsfrZ2 = [[-0.92,-0.9,.06],[-0.82,-0.78,.06],[-0.72,-0.75,.06],[-0.62,-0.58,.06],[-0.52,-0.55,.06],[-0.48,-0.4,.06],[-0.4,-0.38,.06],[-0.35,1.1,.05],[-0.32,-0.35,.06],[-0.25,-0.2,.06],[-0.15,-0.18,.06],[-0.08,-0.05,.06],[0.02,0.0,.06],[0.1,0.12,.05],[0.18,0.15,.05],[0.25,0.28,.05],[0.35,0.38,.05],[0.42,0.4,.05],[0.5,0.48,.05],[0.58,0.6,.05],[0.65,0.62,.05],[0.72,0.75,.05],[0.8,0.78,.05],[0.88,0.9,.05],[0.95,0.92,.04],[1.02,1.05,.04],[1.1,1.08,.04],[1.18,1.2,.04],[1.28,1.25,.04],[1.35,1.4,.04],[-0.88,-0.85,.06],[-0.58,-0.6,.06],[-0.28,-0.3,.06],[-0.02,-0.05,.06],[0.22,0.2,.05],[0.45,0.48,.05],[0.7,0.68,.05],[0.92,0.95,.05],[1.15,1.12,.04],[1.4,1.35,.04]];

const ageZ0 = [[0.3,0.8,.4],[0.43,3.4,.8],[0.6,1.0,.4],[0.9,1.5,.5],[1.16,3.2,.8],[1.3,1.8,.5],[1.68,3.8,.8],[1.8,2.4,.6],[2.2,3.0,.6],[2.6,2.6,.7],[2.9,3.6,.8],[3.2,4.2,.8],[3.48,7.1,.9],[3.5,4.0,.8],[3.85,5.3,.9],[4.1,4.6,.8],[4.3,3.5,1.0],[4.47,8.35,.9],[4.47,2.6,1.0],[4.72,7.77,.9],[4.8,5.2,.9],[5.1,3.6,1.0],[5.3,7.3,.8],[5.5,6.8,.9],[5.6,5.5,.9],[5.8,6.2,.8],[6.1,8.0,.8],[6.2,4.5,1.0],[6.33,3.0,1.0],[6.54,5.7,.9],[6.7,6.6,.8],[7.0,7.0,.8],[7.3,5.9,.9],[7.8,4.3,1.0],[8.0,6.4,.8],[8.3,6.8,.8],[8.34,6.0,.9],[8.6,3.9,.8],[5.0,6.0,.9],[4.0,3.2,.9],[0.5,0.5,.4],[1.0,2.0,.6],[2.4,4.6,.8],[3.0,2.8,.8],[3.7,5.6,.9],[4.6,5.8,.9],[5.2,6.6,.9],[5.7,7.2,.8],[6.0,6.6,.8],[6.4,6.2,.9],[6.9,6.4,.8],[7.6,6.7,.8],[8.3,6.3,.8]];
const ageZ1 = [[0.3,0.5,.25],[0.5,0.9,.3],[0.7,1.3,.3],[0.8,0.7,.25],[1.0,1.5,.3],[1.1,1.0,.3],[1.3,1.8,.3],[1.4,1.3,.3],[1.5,1.9,.35],[1.6,0.5,.3],[1.6,1.5,.3],[1.7,2.2,.35],[1.8,1.7,.3],[1.9,2.5,.35],[2.0,2.0,.3],[2.1,2.8,.35],[2.2,2.3,.3],[2.4,4.1,.4],[2.4,2.6,.35],[2.5,2.2,.3],[2.6,3.0,.35],[2.7,2.5,.3],[2.8,1.25,.4],[2.8,3.2,.35],[2.9,2.6,.3],[3.0,2.9,.35],[3.1,3.5,.35],[3.2,1.4,.4],[3.3,3.0,.35],[3.5,3.2,.35],[1.2,2.3,.35],[0.4,0.3,.25],[0.9,1.2,.3],[1.2,1.6,.3],[1.5,1.2,.3],[1.8,2.4,.35],[2.1,1.8,.3],[2.3,2.9,.35],[2.6,2.4,.35],[2.9,3.1,.35],[3.2,2.7,.35],[2.0,1.3,.3],[1.0,1.9,.35]];
const ageZ2 = [[0.05,0.1,.1],[0.15,0.3,.12],[0.2,0.15,.1],[0.3,0.5,.12],[0.35,0.25,.12],[0.45,0.6,.15],[0.5,0.4,.12],[0.6,0.8,.15],[0.65,0.55,.15],[0.75,0.9,.15],[0.8,0.7,.15],[0.9,1.1,.15],[0.95,0.85,.15],[1.05,1.2,.15],[1.1,1.0,.15],[1.2,1.35,.15],[1.25,1.15,.15],[1.35,1.5,.15],[1.4,1.3,.15],[1.5,1.6,.15],[1.55,1.4,.15],[1.65,1.75,.15],[1.7,1.55,.15],[1.8,1.9,.15],[1.9,1.7,.15],[2.0,2.0,.15],[1.15,0.2,.2],[0.25,0.8,.2],[0.1,0.3,.1],[0.4,0.2,.12],[0.55,0.7,.15],[0.7,0.6,.15],[0.85,1.0,.15],[1.0,0.9,.15],[1.15,1.3,.15],[1.3,1.2,.15],[1.45,1.7,.15],[1.6,1.45,.15],[1.75,1.65,.15],[1.95,1.9,.15]];

const gageZ0 = [[-4.86,-1.1,1.4],[-4.23,-3.46,.6],[-3.8,-3.1,.6],[-3.56,-2.7,.7],[-3.18,-0.95,.8],[-3.0,-2.2,.7],[-2.6,-1.6,.8],[-2.23,-3.56,.7],[-2.3,0.1,.9],[-1.94,-4.33,.6],[-1.8,-1.2,.8],[-1.5,1.2,.9],[-1.3,-0.5,.8],[-0.99,-3.7,.8],[-1.0,-1.6,.8],[-0.7,-0.2,.7],[-0.5,-0.9,.8],[-0.38,2.78,.7],[-0.2,0.3,.7],[0.0,-0.5,.8],[0.2,1.0,.7],[0.4,-1.3,.8],[0.59,-4.52,.7],[0.8,0.5,.7],[1.0,-0.8,.8],[1.16,-1.92,.8],[1.3,1.4,.7],[1.45,2.24,.8],[1.6,-0.3,.8],[1.77,-0.08,.7],[2.0,0.6,.8],[2.34,1.56,.8],[2.6,2.7,.8],[3.07,0.79,.9],[3.0,4.22,.8],[3.43,2.52,.8],[4.5,4.13,.7],[4.91,2.43,.8],[5.3,3.88,.7],[1.4,-1.0,.8],[-4.0,-2.8,.7],[-3.3,-2.2,.7],[-2.8,-2.6,.8],[-2.0,-1.5,.8],[-1.6,-2.5,.8],[-1.2,-1.9,.8],[-0.8,0.8,.8],[-0.3,-1.7,.8],[0.3,0.0,.7],[0.6,1.3,.7],[1.1,0.2,.8],[2.2,1.8,.8],[2.8,3.5,.8]];
const gageZ1 = [[-1.6,-1.0,.4],[-1.4,-0.6,.4],[-1.3,-1.4,.4],[-1.1,-0.2,.4],[-1.0,-0.9,.4],[-0.9,0.5,.5],[-0.8,-1.2,.4],[-0.7,-0.4,.4],[-0.6,0.2,.4],[-0.5,-0.7,.4],[-0.4,-0.1,.4],[-0.3,0.5,.4],[-0.2,-0.5,.4],[-0.1,0.1,.4],[0.0,-0.9,.4],[0.1,0.6,.4],[0.2,-0.2,.4],[0.3,0.3,.4],[0.4,1.0,.4],[0.5,-0.4,.4],[0.6,0.8,.4],[0.7,0.1,.4],[0.8,1.3,.4],[1.0,0.5,.4],[1.2,1.6,.4],[1.4,0.9,.4],[1.6,1.2,.4],[1.9,1.8,.4],[-0.6,-2.4,.5],[0.9,-0.8,.4],[-1.8,-1.6,.4],[-1.5,-1.1,.4],[-1.2,-0.8,.4],[-0.9,-0.5,.4],[-0.7,-1.0,.4],[-0.4,-0.6,.4],[-0.2,0.3,.4],[0.0,0.2,.4],[0.3,-0.5,.4],[0.5,0.4,.4],[0.7,0.6,.4],[1.1,1.1,.4],[1.5,1.8,.4]];
const gageZ2 = [[-1.2,-0.5,.2],[-1.0,-0.8,.2],[-0.9,-0.3,.2],[-0.8,-0.6,.2],[-0.7,-0.1,.2],[-0.6,-0.5,.2],[-0.5,-0.2,.2],[-0.4,0.0,.2],[-0.35,-0.5,.2],[-0.3,-0.3,.2],[-0.2,0.1,.2],[-0.15,-0.2,.2],[-0.1,0.3,.2],[0.0,0.0,.2],[0.05,-0.3,.2],[0.1,0.4,.2],[0.2,0.2,.2],[0.25,-0.1,.2],[0.3,0.5,.2],[0.4,0.3,.2],[0.5,0.7,.2],[0.6,0.4,.2],[0.7,0.6,.2],[0.8,0.8,.2],[0.15,0.6,.2],[-0.5,0.3,.2],[-1.1,-1.1,.2],[-0.95,-0.5,.2],[-0.75,-0.35,.2],[-0.55,-0.7,.2],[-0.45,-0.4,.2],[-0.25,-0.1,.2],[-0.05,0.2,.2],[0.1,-0.1,.2],[0.3,0.2,.2],[0.45,0.5,.2],[0.65,0.3,.2],[0.35,0.7,.2]];

const zstarZ0 = [[0.2,0.52,.3],[0.22,0.8,.35],[0.25,1.0,.35],[0.3,0.6,.3],[0.32,0.45,.3],[0.38,0.7,.35],[0.42,0.9,.35],[0.45,0.55,.3],[0.5,1.2,.4],[0.55,0.35,.3],[0.58,0.8,.35],[0.62,1.4,.4],[0.66,0.3,.3],[0.7,1.0,.35],[0.72,0.6,.35],[0.78,1.25,.4],[0.82,0.85,.35],[0.88,1.5,.4],[0.92,0.45,.3],[0.95,1.1,.4],[1.0,0.75,.35],[1.05,1.9,.4],[1.08,1.3,.4],[1.12,0.55,.35],[1.18,1.05,.4],[1.25,1.6,.4],[1.3,0.9,.35],[1.35,1.45,.4],[1.4,2.0,.4],[1.45,1.15,.4],[1.5,0.8,.35],[1.55,1.5,.4],[1.6,1.25,.4],[1.68,2.48,.3],[1.72,0.75,.35],[1.8,1.1,.4],[1.85,2.42,.3],[1.95,1.05,.35],[2.05,1.4,.35],[0.28,1.15,.35],[0.24,0.65,.3],[0.35,0.85,.35],[0.48,0.65,.35],[0.6,1.05,.4],[0.75,0.9,.35],[0.85,1.25,.4],[0.98,0.95,.4],[1.1,1.0,.4],[1.22,0.85,.4],[1.38,1.2,.4],[1.52,1.35,.4],[1.65,1.1,.4]];
const zstarZ1 = [[0.22,1.1,.35],[0.25,0.35,.3],[0.3,0.65,.3],[0.35,0.95,.35],[0.4,0.5,.3],[0.45,1.3,.4],[0.5,0.8,.35],[0.55,0.6,.3],[0.6,1.05,.35],[0.65,2.26,.3],[0.67,2.47,.3],[0.7,1.7,.4],[0.75,0.4,.3],[0.8,1.35,.4],[0.85,0.7,.35],[0.9,1.0,.35],[0.95,1.6,.4],[1.0,0.35,.3],[1.05,1.2,.4],[1.1,1.95,.4],[1.15,0.65,.35],[1.22,2.22,.35],[1.25,1.5,.4],[1.3,1.0,.35],[1.4,1.75,.4],[1.45,0.7,.35],[1.52,0.5,.3],[1.55,2.35,.3],[1.6,1.05,.35],[1.7,1.4,.4],[1.75,1.95,.4],[1.85,0.85,.35],[1.9,1.8,.35],[1.98,2.2,.35],[2.05,1.1,.35],[2.1,2.44,.3],[2.1,1.35,.35],[2.3,1.96,.3],[2.4,1.94,.3],[2.4,1.61,.3],[0.28,0.55,.3],[0.38,0.75,.35],[0.52,1.1,.35],[0.62,0.55,.35],[0.78,0.95,.4],[0.88,1.2,.4],[0.98,0.6,.35],[1.12,1.3,.4],[1.28,1.6,.4],[1.42,1.1,.4],[1.62,1.55,.4],[1.8,1.3,.4]];
const zstarZ2 = [[0.22,0.28,.25],[0.25,0.9,.35],[0.28,0.75,.35],[0.3,0.4,.3],[0.34,2.07,.35],[0.35,1.25,.4],[0.4,1.0,.35],[0.45,0.45,.3],[0.48,1.45,.4],[0.52,0.65,.35],[0.55,2.1,.35],[0.6,1.1,.4],[0.65,0.85,.35],[0.7,1.5,.4],[0.75,0.55,.35],[0.8,1.15,.4],[0.85,1.3,.4],[0.87,0.25,.25],[0.9,0.7,.35],[0.95,1.0,.35],[1.0,1.55,.4],[1.05,0.45,.3],[1.1,1.2,.4],[1.12,2.5,.3],[1.15,1.8,.4],[1.2,0.9,.35],[1.28,1.4,.4],[1.33,0.26,.25],[1.38,1.05,.4],[1.43,0.21,.25],[1.5,1.3,.4],[1.6,0.85,.35],[1.75,1.35,.35],[1.95,0.9,.35],[2.0,0.94,.3],[2.12,1.69,.3],[2.22,1.68,.3],[1.42,1.6,.4],[0.24,0.55,.3],[0.32,0.95,.35],[0.42,0.8,.35],[0.58,0.6,.35],[0.68,1.2,.4],[0.78,0.8,.35],[0.92,1.35,.4],[1.02,0.85,.4],[1.18,1.15,.4],[1.32,0.75,.35],[1.48,1.15,.4],[1.68,1.5,.4]];

const fcovZ0 = [[0.0,0.29,.2],[0.01,0.53,.2],[0.02,0.22,.15],[0.03,0.1,.12],[0.04,0.57,.2],[0.06,0.03,.1],[0.08,0.18,.15],[0.1,0.12,.15],[0.12,0.74,.2],[0.14,0.35,.2],[0.17,0.08,.12],[0.2,0.25,.18],[0.23,0.55,.22],[0.26,0.15,.15],[0.28,0.99,.15],[0.3,0.42,.22],[0.33,0.22,.2],[0.36,0.6,.22],[0.39,0.78,.2],[0.42,0.3,.22],[0.45,0.5,.25],[0.48,0.68,.22],[0.5,0.2,.2],[0.53,0.85,.2],[0.56,0.4,.25],[0.6,0.75,.22],[0.63,0.55,.25],[0.66,0.9,.15],[0.7,0.3,.25],[0.72,0.08,.15],[0.75,0.62,.25],[0.76,0.16,.2],[0.8,0.85,.18],[0.83,0.45,.25],[0.86,0.92,.12],[0.9,0.7,.22],[0.94,0.29,.22],[0.96,0.55,.22],[0.98,0.82,.15],[0.92,0.95,.1],[0.05,0.1,.12],[0.15,0.2,.18],[0.25,0.3,.2],[0.35,0.28,.22],[0.47,0.35,.22],[0.55,0.62,.22],[0.62,0.8,.2],[0.68,0.65,.22],[0.78,0.5,.25],[0.85,0.75,.2],[0.9,0.88,.15],[0.97,0.88,.12]];
const fcovZ1 = [[0.01,0.04,.1],[0.02,0.12,.12],[0.04,0.33,.2],[0.05,0.44,.2],[0.08,0.08,.12],[0.1,0.27,.18],[0.13,0.15,.15],[0.16,0.4,.2],[0.2,0.7,.2],[0.22,0.1,.15],[0.25,0.3,.2],[0.28,0.18,.18],[0.31,0.45,.22],[0.34,0.25,.2],[0.37,0.58,.22],[0.4,0.05,.12],[0.43,0.38,.22],[0.46,0.62,.22],[0.5,0.82,.2],[0.53,0.43,.25],[0.56,0.97,.12],[0.59,0.25,.22],[0.62,0.7,.22],[0.65,0.52,.25],[0.68,0.2,.2],[0.71,0.83,.18],[0.74,0.65,.22],[0.78,0.38,.25],[0.82,0.8,.18],[0.85,0.6,.22],[0.88,0.93,.12],[0.92,0.75,.2],[0.95,0.07,.15],[0.97,0.88,.12],[0.99,0.69,.2],[0.45,0.15,.18],[0.06,0.05,.1],[0.12,0.22,.15],[0.18,0.12,.15],[0.27,0.25,.2],[0.33,0.4,.22],[0.42,0.45,.22],[0.52,0.58,.22],[0.6,0.75,.2],[0.7,0.55,.25],[0.8,0.9,.15],[0.87,0.72,.2],[0.93,0.83,.15]];
const fcovZ2 = [[0.01,0.51,.2],[0.02,0.0,.08],[0.03,0.04,.1],[0.06,0.15,.15],[0.09,0.38,.2],[0.1,0.07,.12],[0.12,0.22,.18],[0.15,0.13,.15],[0.18,0.5,.22],[0.2,0.68,.2],[0.22,0.05,.12],[0.26,0.35,.2],[0.3,0.69,.2],[0.32,0.01,.08],[0.35,0.28,.22],[0.38,0.5,.22],[0.41,0.78,.2],[0.44,0.2,.2],[0.48,0.55,.25],[0.52,0.42,.25],[0.55,0.8,.2],[0.58,0.62,.22],[0.61,0.01,.1],[0.64,0.35,.25],[0.67,0.88,.15],[0.7,0.97,.12],[0.73,0.57,.25],[0.77,0.72,.22],[0.8,0.28,.25],[0.84,0.9,.15],[0.88,0.38,.25],[0.91,0.84,.15],[0.96,0.2,.2],[0.98,0.95,.1],[0.65,0.5,.25],[0.04,0.08,.12],[0.08,0.2,.15],[0.14,0.1,.15],[0.24,0.25,.2],[0.34,0.45,.22],[0.45,0.4,.22],[0.53,0.65,.22],[0.62,0.7,.2],[0.72,0.8,.2],[0.82,0.6,.22],[0.9,0.92,.12],[0.94,0.7,.2]];

const thetaZ0 = [[4,21,8],[6.5,8,7],[10,18.5,8],[13,8,7],[14,3.6,6],[16,19,8],[19,11,8],[21,28,8],[23,14,8],[25,18,8],[27,22,8],[29,15,8],[31,30,6],[34,33,5],[37,30.7,5],[38,39,4],[41,40,4],[44,45,3],[47,46,3],[50,50,3],[51.3,89.9,3],[53,54,3],[56,55,3],[59,60,3],[62,65,3],[64,62,3],[67,68,3],[70,72,3],[73,78,3],[76,75,3],[79,80,3],[82,84,3],[84,79,3],[86,88,3],[88,85,3],[89.7,71.7,4],[12,15,8],[18,20,8],[26,25,8],[36,37,5],[42,43,4],[48,49,3],[57,58,3],[63,63,3],[68,70,3],[74,72,3],[80,78,3],[85,86,3],[87,82,3]];
const thetaZ1 = [[7,11,7],[8,14,8],[11,16,8],[12.5,18.5,8],[15,8,7],[17,14,8],[20,17,8],[22,20,8],[24,27,8],[26,25,8],[28,19,8],[30,25,7],[32,17.5,7],[35,36,5],[39,38,4],[42,44,4],[45,43,3],[48,51,3],[51,49,3],[54,57,3],[57,56,3],[60,62,3],[63,61,3],[66,64,3],[69,73,3],[72,70,3],[75,85,4],[78,68,4],[80,80,3],[83,85,3],[85,82,3],[87,89,3],[89,83,3],[10,9,7],[18,24,8],[27,29,8],[37,35,4],[43,42,3],[49,47,3],[55,53,3],[61,64,3],[67,66,3],[73,75,3],[79,76,3],[84,88,3],[88,87,3]];
const thetaZ2 = [[6,7,6],[9,11,7],[11,14,8],[13,12,8],[15,20,8],[17,26.5,8],[19,11,8],[21,15,8],[24,19,8],[27,13,8],[29,30,7],[31,18,7],[33,23.5,6],[35,33,5],[38,42,4],[41,38,4],[43,46,3],[46,48,3],[49,52,3],[52,53,3],[55,56,3],[58,62,3],[61,59,3],[64,66,3],[67,65,3],[70,73,3],[73,70,3],[76,79,3],[79,82,3],[82,86,3],[85,75,4],[87,90,3],[89,86,3],[8,10,7],[16,13,8],[23,22,8],[33,35,5],[40,40,4],[45,45,3],[50,48,3],[56,58,3],[62,61,3],[68,68,3],[75,74,3],[81,80,3],[86,84,3]];

// ---- statistics ----
const rhoVals = [["0.978","0.962","0.977"],["0.964","0.979","0.978"],["0.488","0.600","0.621"],["0.942","0.967","0.974"],["0.994","0.993","0.985"],["0.959","0.968","0.956"],["0.606","0.505","0.519"],["0.885","0.841","0.696"],["0.974","0.945","0.970"],["0.982","0.983","0.986"],["0.815","0.818","0.861"],["0.694","0.683","0.778"],["0.493","0.587","0.318"],["0.722","0.731","0.783"],["0.974","0.985","0.981"]];
const nmadVals = [["0.112","0.101","0.086"],["0.075","0.071","0.065"],["0.062","0.061","0.060"],["0.096","0.094","0.054"],["0.084","0.077","0.084"],["0.076","0.087","0.098"],["0.065","0.061","0.059"],["0.152","0.174","0.226"],["0.138","0.078","0.093"],["0.089","0.062","0.056"],["1.054","0.419","0.194"],["0.911","0.502","0.201"],["0.460","0.426","0.483"],["0.188","0.146","0.126"],["2.831","2.615","2.793"]];
const legendLabels = ["z = 0", "z = 1", "z = 2"];

// ---- ticks ----
const ticksMstar = [9, 9.5, 10, 10.5, 11, 11.5, 12];
const ticksRstar = [-0.6, -0.4, -0.2, 0, 0.2, 0.4, 0.6, 0.8, 1.0];
const ticksUnit = [0, 0.2, 0.4, 0.6, 0.8, 1.0];
const ticksN = [-0.6, -0.3, 0, 0.3, 0.6, 0.9];
const ticksMdust = [5, 6, 7, 8, 9, 10];
const ticksR = [-1.0, -0.5, 0, 0.5, 1.0, 1.5];
const ticksSfr = [-4, -2, 0, 2, 4];
const ticksAge = [0, 3, 6, 9, 12];
const ticksGage = [-6, -4, -2, 0, 2, 4, 6];
const ticksZ = [0, 0.5, 1.0, 1.5, 2.0, 2.5];
const ticksTheta = [0, 15, 30, 45, 60, 75, 90];

const MSUN = '[<i>M</i><sub>⊙</sub>]';
const panels = [
  {s:[mstarZ0,mstarZ1,mstarZ2], r:0,c:0, xd:[9,12], yd:[9,12], t:ticksMstar, dec:1, lab:'log(<i>M</i><sub>star</sub> '+MSUN+')', legend:true},
  {s:[rstarZ0,rstarZ1,rstarZ2], r:0,c:1, xd:[-0.6,1.1], yd:[-0.6,1.1], t:ticksRstar, dec:1, lab:'log(<i>R</i><sub>star</sub> [kpc])'},
  {s:[cstarZ0,cstarZ1,cstarZ2], r:0,c:2, xd:[0,1], yd:[0,1], t:ticksUnit, dec:1, lab:'<i>C</i><sub>star</sub>/<i>R</i><sub>star</sub>'},
  {s:[nstarZ0,nstarZ1,nstarZ2], r:0,c:3, xd:[-0.74,0.99], yd:[-0.8,1.0], t:ticksN, dec:1, lab:'log(<i>n</i><sub>star</sub>)'},
  {s:[mdustZ0,mdustZ1,mdustZ2], r:1,c:0, xd:[5,10], yd:[5,10], t:ticksMdust, dec:0, lab:'log(<i>M</i><sub>dust</sub> '+MSUN+')'},
  {s:[rdustZ0,rdustZ1,rdustZ2], r:1,c:1, xd:[-1,1.5], yd:[-1,1.5], t:ticksR, dec:1, lab:'log(<i>R</i><sub>dust</sub> [kpc])'},
  {s:[cdustZ0,cdustZ1,cdustZ2], r:1,c:2, xd:[0,1], yd:[0,1], t:ticksUnit, dec:1, lab:'<i>C</i><sub>dust</sub>/<i>R</i><sub>dust</sub>'},
  {s:[ndustZ0,ndustZ1,ndustZ2], r:1,c:3, xd:[-0.745,0.975], yd:[-0.79,1.0], t:ticksN, dec:1, lab:'log(<i>n</i><sub>dust</sub>)'},
  {s:[sfrZ0,sfrZ1,sfrZ2], r:2,c:0, xd:[-4,4], yd:[-4,4], t:ticksSfr, dec:0, lab:'log(SFR [<i>M</i><sub>⊙</sub>/yr])'},
  {s:[rsfrZ0,rsfrZ1,rsfrZ2], r:2,c:1, xd:[-1,1.5], yd:[-1,1.5], t:ticksR, dec:1, lab:'log(<i>R</i><sub>SFR</sub> [kpc])'},
  {s:[ageZ0,ageZ1,ageZ2], r:2,c:2, xd:[0,13], yd:[0,13], t:ticksAge, dec:0, lab:'age<sub>w</sub> [Gyr]'},
  {s:[gageZ0,gageZ1,gageZ2], r:2,c:3, xd:[-6,6], yd:[-6,6], t:ticksGage, dec:0, lab:'∇age<sub>w</sub> [Gyr]'},
  {s:[zstarZ0,zstarZ1,zstarZ2], r:3,c:0, xd:[0,2.5], yd:[0,2.5], t:ticksZ, dec:1, lab:'<i>Z</i><sub>star</sub> [<i>Z</i><sub>⊙</sub>]'},
  {s:[fcovZ0,fcovZ1,fcovZ2], r:3,c:1, xd:[0,1], yd:[0,1], t:ticksUnit, dec:1, lab:'<i>f</i><sub>cov</sub>'},
  {s:[thetaZ0,thetaZ1,thetaZ2], r:3,c:3, xd:[0,90], yd:[0,90], t:ticksTheta, dec:0, lab:'<i>θ</i> [<sup>o</sup>]'}
];

const COLX = [44, 295, 546, 797];
const ROWY = [60, 310, 560, 810];
const FW = 210, FH = 208;
const ML = 40, MR = 8, MT = 6, MB = 24;

const page = document.getElementById("page");
const title = document.createElement("div");
title.id = "title";
title.innerHTML = '<span style="position:absolute;left:648px;font-style:italic;transform:scaleX(0.94);transform-origin:0 0;white-space:nowrap;">SE3D tests on mock observations</span><span style="position:absolute;left:999px;">9</span>';
page.appendChild(title);

const fmt = dec => d => (d < 0 ? "\u2212" : "") + Math.abs(d).toFixed(dec);

panels.forEach((p, i) => {
  const rows = [];
  p.s.forEach((arr, k) => arr.forEach(d => rows.push({x: d[0], y: d[1], lo: d[1] - d[2], hi: d[1] + d[2], k})));
  const svg = Plot.plot({
    width: FW + ML + MR, height: FH + MT + MB,
    marginLeft: ML, marginRight: MR, marginTop: MT, marginBottom: MB,
    x: {domain: p.xd, label: null},
    y: {domain: p.yd, label: null},
    style: {fontFamily: "DejaVu Sans", fontSize: "10px", background: "transparent", overflow: "visible", color: "#000"},
    marks: [
      Plot.ruleX(rows, {x: "x", y1: "lo", y2: "hi", stroke: "#c6c6c6", strokeOpacity: 0.7, strokeWidth: 1, clip: true}),
      Plot.link([p], {x1: d => d.xd[0], y1: d => d.yd[0], x2: d => d.xd[1], y2: d => d.yd[1], stroke: "#333", strokeWidth: 0.6, strokeDasharray: "1.6,1.4"}),
      ...[0, 1, 2].map(k => Plot.dot(rows.filter(d => d.k === k), {x: "x", y: "y", r: 2.1, fill: COLORS[k], stroke: "none", clip: true})),
      Plot.axisX({ticks: p.t, tickFormat: fmt(p.dec), tickSize: 3, tickPadding: 2, label: null, fontSize: 10}),
      Plot.axisY({ticks: p.t, tickFormat: fmt(p.dec), tickSize: 3, tickPadding: 2, label: null, fontSize: 10}),
      Plot.frame({stroke: "#555", strokeWidth: 0.9})
    ]
  });
  const fl = COLX[p.c], ft = ROWY[p.r];
  svg.classList.add("panel");
  svg.style.left = (fl - ML) + "px";
  svg.style.top = (ft - MT) + "px";
  page.appendChild(svg);

  const g = d3.select(svg).append("g").attr("font-family", "DejaVu Sans").attr("font-size", 10).attr("text-anchor", "start").style("white-space", "pre");
  const t1 = g.append("text").attr("x", ML + 3).attr("y", MT + 10).attr("text-anchor", "start");
  t1.append("tspan").attr("font-style", "italic").text("\u03c1");
  t1.append("tspan").text("  = ");
  const t2 = g.append("text").attr("x", ML + 3).attr("y", MT + 20).attr("text-anchor", "start");
  t2.append("tspan").text("NMAD = ");
  [0, 1, 2].forEach(k => {
    t1.append("tspan").attr("fill", COLORS[k]).text(rhoVals[i][k]);
    t2.append("tspan").attr("fill", COLORS[k]).text(nmadVals[i][k]);
    if (k < 2) { t1.append("tspan").text(", "); t2.append("tspan").text(", "); }
  });

  if (p.legend) {
    const lg = d3.select(svg).append("g").attr("transform", `translate(${ML + 146},${MT + 157})`).attr("text-anchor", "start");
    lg.append("rect").attr("width", 61).attr("height", 46).attr("rx", 2.5).attr("fill", "#fff").attr("fill-opacity", 0.85).attr("stroke", "#ccc").attr("stroke-width", 0.8);
    legendLabels.forEach((s, k) => {
      const yy = 8 + k * 15;
      lg.append("circle").attr("cx", 11).attr("cy", yy).attr("r", 2.1).attr("fill", COLORS[k]);
      lg.append("text").attr("x", 25).attr("y", yy + 3.8).attr("font-family", "DejaVu Sans").attr("font-size", 10.5).attr("fill", "#000").attr("text-anchor", "start").text(s);
    });
  }

  const xl = document.createElement("div");
  xl.className = "lab";
  xl.innerHTML = p.lab + " real";
  xl.style.left = (fl + FW / 2) + "px";
  xl.style.top = (ft + FH + 20) + "px";
  xl.style.transform = "translate(-50%,-50%)";
  page.appendChild(xl);
  const yl = document.createElement("div");
  yl.className = "lab";
  yl.innerHTML = p.lab + " fit";
  yl.style.left = (fl - 32) + "px";
  yl.style.top = (ft + FH / 2) + "px";
  yl.style.transform = "translate(-50%,-50%) rotate(-90deg)";
  page.appendChild(yl);
});
</script></body></html>
